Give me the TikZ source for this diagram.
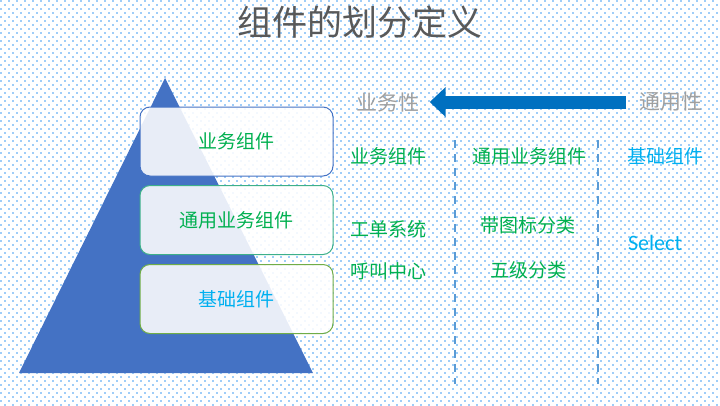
\documentclass[tikz,border=0pt]{standalone}
\usepackage{fontspec}
\newfontfamily\cjk{Noto Sans CJK SC}
\newfontfamily\carl{Carlito}
\usetikzlibrary{arrows.meta}
\definecolor{dotblue}{HTML}{1E8AF0}
\definecolor{triblue}{HTML}{4472C4}
\definecolor{arrowblue}{HTML}{0070C0}
\definecolor{dashblue}{HTML}{5B9BD5}
\definecolor{txtgreen}{HTML}{00B050}
\definecolor{txtcyan}{HTML}{00B0F0}
\definecolor{titlegray}{HTML}{595959}
\definecolor{sidegray}{HTML}{A0A0A0}
\definecolor{bordertwo}{HTML}{3DB08A}
\definecolor{borderthree}{HTML}{70AD47}
\tikzset{
  bgdot/.style={fill=dotblue},
  layerbox/.style={draw, line width=1pt, rounded corners=10pt, fill=white,
    fill opacity=0.88, text opacity=1, minimum width=193pt, minimum height=69pt,
    inner sep=0pt, font=\cjk\fontsize{19}{22}\selectfont},
  coltext/.style={inner sep=0pt, text=txtgreen, font=\cjk\fontsize{19}{22}\selectfont},
  sidetext/.style={inner sep=0pt, text=sidegray, font=\cjk\fontsize{21}{24}\selectfont},
  divider/.style={draw=dashblue, line width=1.8pt, dash pattern=on 8pt off 6pt},
  bigarrow/.style={draw=arrowblue, line width=13pt,
    -{Triangle[length=16pt,width=29pt]}}
}
\begin{document}
\begin{tikzpicture}[x=1pt,y=-1pt]
\useasboundingbox (0,0) rectangle (720,405);
\fill[white] (0,0) rectangle (720,405);
% dotted background
\foreach \j in {0,...,50}{
  \fill[bgdot] \foreach \i in {0,...,89}{ (8*\i+0.3,8*\j+0.3) rectangle ++(1.4,1.4) };
  \fill[bgdot] \foreach \i in {0,...,89}{ (8*\i+4.3,8*\j+4.3) rectangle ++(1.4,1.4) };
}

% title
\node[inner sep=0pt, text=titlegray, font=\cjk\fontsize{35}{40}\selectfont] (title) at (360,22) {组件的划分定义};

% pyramid
\fill[triblue] (165,78) -- (313,373) -- (19,373) -- cycle;

% layer boxes
\node[layerbox, draw=triblue, text=txtgreen] (lb1) at (236.5,141.5) {业务组件};
\node[layerbox, draw=bordertwo, text=txtgreen] (lb2) at (236.5,220) {通用业务组件};
\node[layerbox, draw=borderthree, text=txtcyan] (lb3) at (236.5,299) {基础组件};

% arrow
\node[sidetext] (biz) at (388,102) {业务性};
\node[sidetext] (gen) at (671,102) {通用性};
\draw[bigarrow, shorten <=13pt, shorten >=10pt] (gen.west) -- (biz.east);

% column headers
\node[coltext] (h1) at (388,156) {业务组件};
\node[coltext] (h2) at (529,156) {通用业务组件};
\node[coltext, text=txtcyan] (h3) at (665,156) {基础组件};

% column items
\node[coltext] (c11) at (388,229) {工单系统};
\node[coltext] (c12) at (388,271) {呼叫中心};
\node[coltext] (c21) at (528,225) {带图标分类};
\node[coltext] (c22) at (528,270) {五级分类};
\node[inner sep=0pt, text=txtcyan, font=\carl\fontsize{22}{26}\selectfont] (c31) at (655,243) {Select};

% dividers
\coordinate (d1t) at (455,140);
\coordinate (d1b) at (455,384);
\coordinate (d2t) at (598,140);
\coordinate (d2b) at (598,384);
\draw[divider] (d1t) -- (d1b);
\draw[divider] (d2t) -- (d2b);
\end{tikzpicture}
\end{document}
